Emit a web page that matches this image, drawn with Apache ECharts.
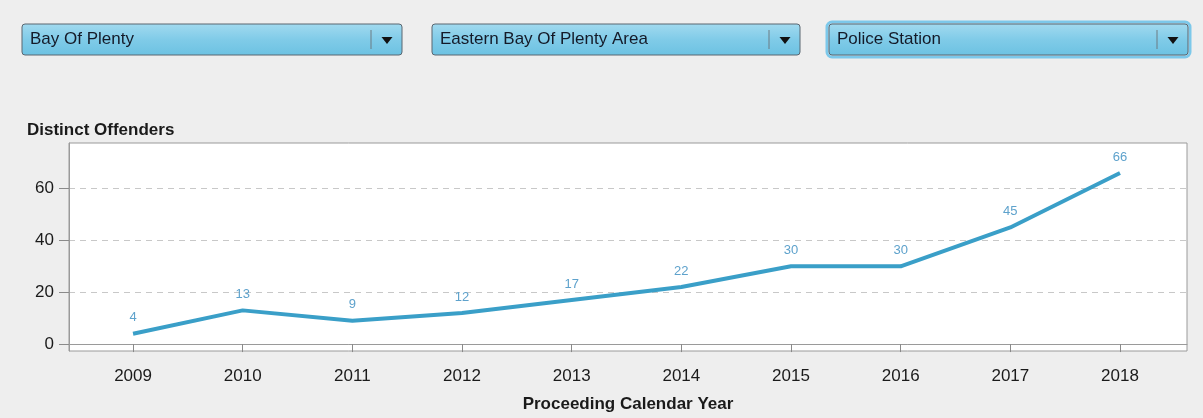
<!DOCTYPE html>
<html>
<head>
<meta charset="utf-8">
<script src="https://cdn.jsdelivr.net/npm/echarts@6/dist/echarts.min.js"></script>
<style>
html,body{margin:0;padding:0;background:#eeeeee;}
#chart{width:1203px;height:418px;}
</style>
</head>
<body>
<div id="chart"></div>
<script>
const years = [2009, 2010, 2011, 2012, 2013, 2014, 2015, 2016, 2017, 2018];
const offenders = [4, 13, 9, 12, 17, 22, 30, 30, 45, 66];
const yTicks = [0, 20, 40, 60];
const dropdownLabels = ['Bay Of Plenty', 'Eastern Bay Of Plenty Area', 'Police Station'];
const yTitle = 'Distinct Offenders';
const xTitle = 'Proceeding Calendar Year';

const FONT = '"Liberation Sans", Arial, sans-serif';

function dropdown(x, w, text, focused) {
  const y = 24, h = 31;
  const els = [];
  if (focused) {
    els.push({
      type: 'rect', z: 1,
      shape: { x: x - 2, y: y - 2, width: w + 4, height: h + 4, r: 5 },
      style: { fill: 'none', stroke: '#7cc8ea', lineWidth: 3 }
    });
  }
  els.push({
    type: 'rect', z: 2,
    shape: { x: x, y: y, width: w, height: h, r: 3 },
    style: {
      fill: new echarts.graphic.LinearGradient(0, 0, 0, 1, [
        { offset: 0, color: '#a2daef' },
        { offset: 0.5, color: '#80cbe8' },
        { offset: 1, color: '#6cc2e2' }
      ]),
      stroke: '#5a6670', lineWidth: 1
    }
  });
  els.push({
    type: 'text', z: 3,
    style: { text: text, x: x + 8, y: y + h / 2, font: '17px ' + FONT, fill: '#141a28', textVerticalAlign: 'middle' }
  });
  els.push({
    type: 'line', z: 3,
    shape: { x1: x + w - 31, y1: y + 6, x2: x + w - 31, y2: y + h - 6 },
    style: { stroke: '#6d7a82', lineWidth: 1 }
  });
  const ax = x + w - 15, ay = y + h / 2 + 1;
  els.push({
    type: 'polygon', z: 3,
    shape: { points: [[ax - 5.5, ay - 3.5], [ax + 5.5, ay - 3.5], [ax, ay + 3.5]] },
    style: { fill: '#111' }
  });
  return els;
}

const graphics = [].concat(
  dropdown(22, 380, dropdownLabels[0], false),
  dropdown(432, 368, dropdownLabels[1], false),
  dropdown(829, 359, dropdownLabels[2], true)
);

const chart = echarts.init(document.getElementById('chart'), null, { renderer: 'canvas' });
chart.setOption({
  backgroundColor: '#eeeeee',
  animation: false,
  title: {
    text: yTitle, left: 22, top: 117,
    textStyle: { fontFamily: FONT, fontSize: 17, fontWeight: 'bold', color: '#1a1a1a' }
  },
  graphic: graphics,
  grid: {
    left: 69, right: 16, top: 143, bottom: 65,
    show: true, backgroundColor: '#ffffff', borderColor: '#9a9a9a', borderWidth: 1
  },
  xAxis: {
    type: 'value',
    min: 2008.416, max: 2018.611,
    name: xTitle, nameLocation: 'middle', nameGap: 45,
    nameTextStyle: { fontFamily: FONT, fontSize: 17, fontWeight: 'bold', color: '#1a1a1a' },
    axisLine: { show: true, lineStyle: { color: '#9a9a9a' } },
    axisTick: { show: true, length: 8, customValues: years, lineStyle: { color: '#8a8a8a' } },
    axisLabel: { customValues: years, margin: 17, fontFamily: FONT, fontSize: 17, color: '#1a1a1a', formatter: v => String(v) },
    splitLine: { show: false }
  },
  yAxis: {
    type: 'value',
    min: -2.675, max: 77.58,
    axisLine: { show: true, lineStyle: { color: '#9a9a9a' } },
    axisTick: { show: true, length: 10, customValues: yTicks, lineStyle: { color: '#8a8a8a' } },
    axisLabel: { customValues: yTicks, margin: 15, fontFamily: FONT, fontSize: 17, color: '#1a1a1a' },
    splitLine: { show: true, lineStyle: { color: '#c8c8c8', type: [6, 5] } }
  },
  series: [{
    type: 'line',
    data: years.map((y, i) => [y, offenders[i]]),
    showSymbol: true,
    symbol: 'circle',
    symbolSize: 1,
    itemStyle: { color: 'rgba(0,0,0,0)' },
    lineStyle: { color: '#3a9fc8', width: 4 },
    label: {
      show: true, position: 'top', distance: 9,
      formatter: p => String(p.value[1]),
      fontFamily: FONT, fontSize: 13, color: '#5ea2cc'
    },
    z: 5
  }]
});
</script>
</body>
</html>
